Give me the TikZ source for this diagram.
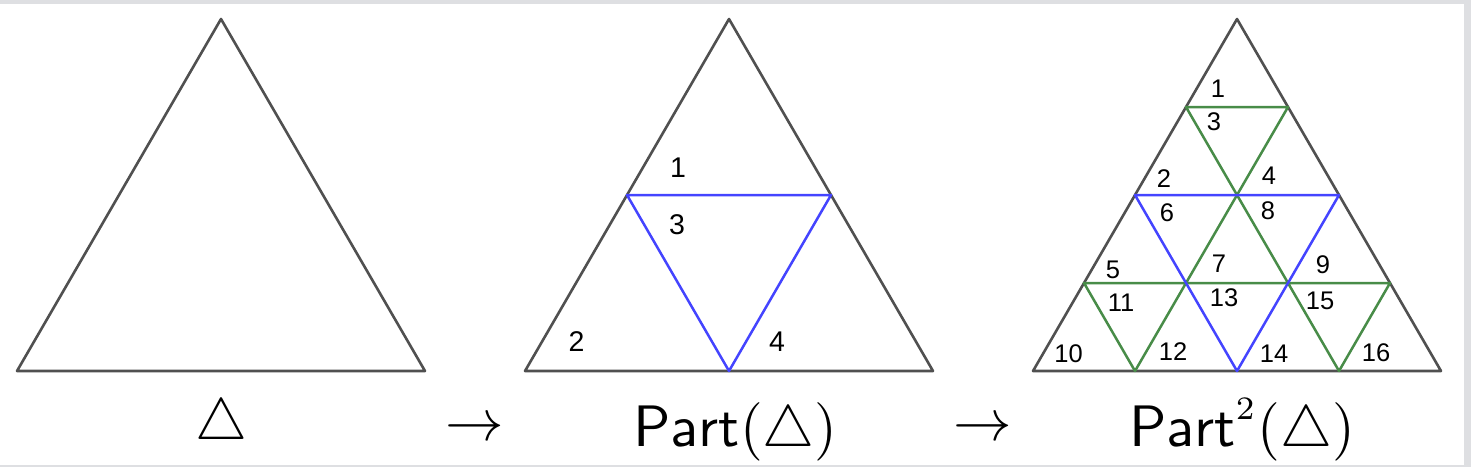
\documentclass[tikz,border=0pt]{standalone}
\usepackage{graphicx}
\usepackage{fontspec}
\newfontfamily\numfont{Liberation Sans}
\definecolor{framegray}{RGB}{222,223,226}
\definecolor{edgegray}{RGB}{80,80,80}
\definecolor{partblue}{RGB}{68,68,255}
\definecolor{partgreen}{RGB}{72,140,72}
\newcommand{\myCaptionText}[1]{\scalebox{5.85}{\fontsize{10}{12}\selectfont #1}}
\newcommand{\mySupTwo}{\scalebox{0.8}{$\scriptstyle 2$}}
\tikzset{
  outer/.style={draw=edgegray,line width=2.6pt,line join=round},
  blueline/.style={draw=partblue,line width=2.5pt,line join=round},
  greenline/.style={draw=partgreen,line width=2.5pt,line join=round},
  numA/.style={inner sep=0pt,font=\numfont\fontsize{28.5}{30}\selectfont},
  numB/.style={inner sep=0pt,font=\numfont\fontsize{25.5}{27}\selectfont},
  caption/.style={inner sep=0pt,anchor=base}
}
\begin{document}
\begin{tikzpicture}[x=1pt,y=-1pt]
\useasboundingbox (0,0) rectangle (1471,467);
\fill[framegray] (0,0) rectangle (1471,4);
\fill[framegray] (1464,0) rectangle (1471,467);
\fill[framegray] (0,465) rectangle (1471,467);

% Triangle 1
\coordinate (a1) at (17,371);
\coordinate (b1) at (425,371);
\coordinate (c1) at (221,19);
\draw[outer] (a1) -- (b1) -- (c1) -- cycle;

% Triangle 2
\coordinate (a2) at (525,371);
\coordinate (b2) at (933,371);
\coordinate (c2) at (729,19);
\coordinate (l2) at (627,195);
\coordinate (r2) at (831,195);
\coordinate (m2) at (729,371);
\draw[outer] (a2) -- (b2) -- (c2) -- cycle;
\draw[blueline] (l2) -- (r2) -- (m2) -- cycle;
\node[numA] (t2n1) at (678,168) {1};
\node[numA] (t2n3) at (677,224.5) {3};
\node[numA] (t2n2) at (576.5,341.5) {2};
\node[numA] (t2n4) at (777,342) {4};

% Triangle 3
\coordinate (a3) at (1033,371);
\coordinate (b3) at (1441,371);
\coordinate (c3) at (1237,19);
\coordinate (l3) at (1135,195);
\coordinate (r3) at (1339,195);
\coordinate (m3) at (1237,371);
\coordinate (u3) at (1237,195);
\coordinate (p1) at (1186,107);
\coordinate (p2) at (1288,107);
\coordinate (q1) at (1084,283);
\coordinate (q2) at (1186,283);
\coordinate (q3) at (1288,283);
\coordinate (q4) at (1390,283);
\coordinate (s1) at (1135,371);
\coordinate (s2) at (1339,371);
\draw[outer] (a3) -- (b3) -- (c3) -- cycle;
\draw[greenline] (p1) -- (p2) -- (u3) -- cycle;
\draw[greenline] (q1) -- (q2) -- (s1) -- cycle;
\draw[greenline] (q3) -- (q4) -- (s2) -- cycle;
\draw[greenline] (q2) -- (q3) -- (u3) -- cycle;
\draw[blueline] (l3) -- (r3) -- (m3) -- cycle;
\node[numB] (t3n1) at (1218,89) {1};
\node[numB] (t3n3) at (1214,121.5) {3};
\node[numB] (t3n2) at (1164,179) {2};
\node[numB] (t3n4) at (1269,176) {4};
\node[numB] (t3n6) at (1167,212.5) {6};
\node[numB] (t3n8) at (1268,210.5) {8};
\node[numB] (t3n5) at (1113,270) {5};
\node[numB] (t3n7) at (1219,264) {7};
\node[numB] (t3n9) at (1323,265) {9};
\node[numB] (t3n11) at (1121,303) {11};
\node[numB] (t3n13) at (1224,298) {13};
\node[numB] (t3n15) at (1320,301) {15};
\node[numB] (t3n10) at (1068.5,354) {10};
\node[numB] (t3n12) at (1173,352) {12};
\node[numB] (t3n14) at (1274,354) {14};
\node[numB] (t3n16) at (1376,353) {16};

% Captions
\node[caption] (cap1) at (221.5,439) {\myCaptionText{$\triangle$}};
\node[caption] (arr1) at (475,440) {\myCaptionText{$\rightarrow$}};
\node[caption] (cap2) at (735.5,446) {\myCaptionText{$\mathsf{Part}(\triangle)$}};
\node[caption] (arr2) at (983,440) {\myCaptionText{$\rightarrow$}};
\node[caption] (cap3) at (1242,446) {\myCaptionText{$\mathsf{Part}^{\mySupTwo}(\triangle)$}};
\end{tikzpicture}
\end{document}
